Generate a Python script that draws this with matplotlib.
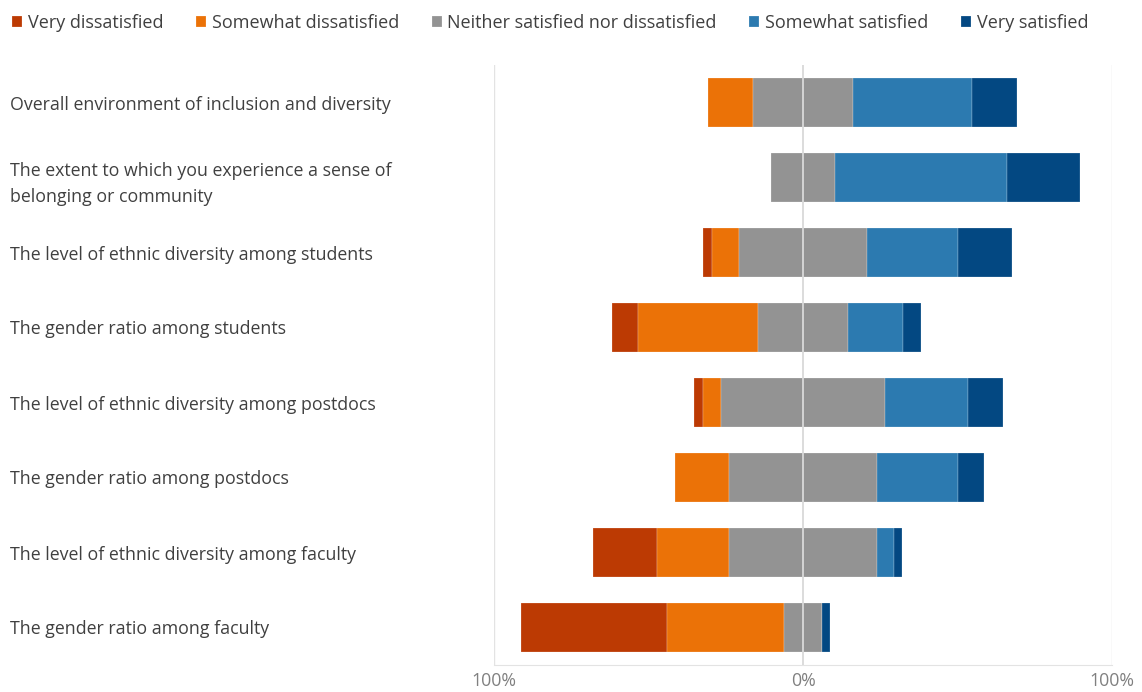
import numpy as np
import matplotlib.pyplot as plt

plt.rcParams['font.family'] = ['Open Sans', 'DejaVu Sans']

questions = [
    'Overall environment of inclusion and diversity',
    'The extent to which you experience a sense of\nbelonging or community',
    'The level of ethnic diversity among students',
    'The gender ratio among students',
    'The level of ethnic diversity among postdocs',
    'The gender ratio among postdocs',
    'The level of ethnic diversity among faculty',
    'The gender ratio among faculty',
]
levels = ['Very dissatisfied', 'Somewhat dissatisfied',
          'Neither satisfied nor dissatisfied', 'Somewhat satisfied',
          'Very satisfied']
colors = ['#BC3A03', '#EB7207', '#939393', '#2C7AB0', '#034882']

# percent of responses per question
very_dis = [0.0, 0.0, 3.0, 8.5, 2.7, 0.0, 20.6, 47.2]
some_dis = [14.5, 0.0, 8.8, 38.7, 6.0, 17.5, 23.4, 38.1]
neutral = [32.5, 21.0, 41.2, 29.4, 53.0, 47.6, 47.6, 12.0]
some_sat = [38.5, 55.5, 29.5, 17.6, 27.0, 26.5, 5.6, 0.0]
very_sat = [14.5, 23.5, 17.5, 5.8, 11.3, 8.4, 2.8, 2.7]

data = np.array([very_dis, some_dis, neutral, some_sat, very_sat])
y = np.arange(len(questions))

# neutral block centred on zero
start = -(data[0] + data[1] + data[2] / 2)

fig = plt.figure(figsize=(11.42, 6.92), dpi=100)
ax = fig.add_axes([494 / 1142, 1 - 665 / 692, 618 / 1142, 600 / 692])

left = start.copy()
for i in range(5):
    ax.barh(y, data[i], left=left, height=0.66, color=colors[i],
            edgecolor='#ffffff80', linewidth=0.3, label=levels[i], zorder=2)
    left = left + data[i]

ax.axvline(0, color='#d9d9d9', lw=1.3, zorder=3)
ax.axvline(-100, color='#e3e3e3', lw=1.0, zorder=1)
ax.axvline(100, color='#e3e3e3', lw=1.0, zorder=1)

ax.set_xlim(-100, 100)
ax.set_ylim(len(questions) - 0.5, -0.5)
ax.set_xticks([-100, 0, 100])
ax.set_xticklabels(['100%', '0%', '100%'])
ax.set_yticks(y)
ax.set_yticklabels(questions, ha='left', linespacing=1.6)
ax.tick_params(axis='y', length=0, pad=484 * 72 / 100, labelsize=12.8,
               labelcolor='#404040')
ax.tick_params(axis='x', length=0, pad=5, labelsize=12.8, labelcolor='#808080')

for s in ['top', 'left', 'right']:
    ax.spines[s].set_visible(False)
ax.spines['bottom'].set_color('#e3e3e3')

fig.legend(loc='upper left', bbox_to_anchor=(-0.0005, 0.998), ncol=5,
           frameon=False, fontsize=13, handlelength=0.55, handleheight=0.55,
           handletextpad=0.33, columnspacing=1.8, labelcolor='#404040',
           borderaxespad=0.3)

fig.savefig('out.png', dpi=100)
